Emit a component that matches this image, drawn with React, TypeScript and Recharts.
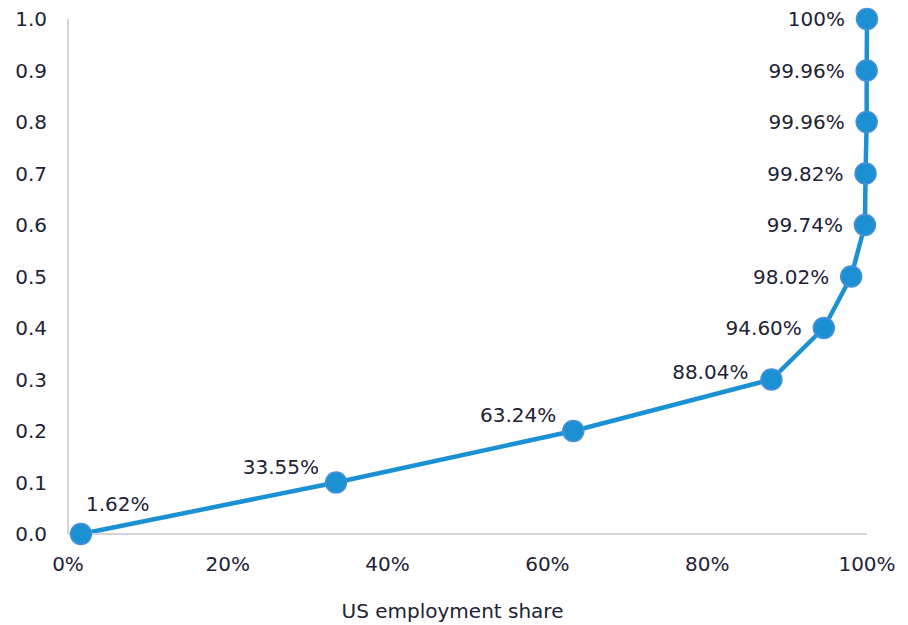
import React from 'react';
import { LineChart, Line, XAxis, YAxis, LabelList } from 'recharts';

// cumulative US employment share at each threshold
const employmentShare = [1.62, 33.55, 63.24, 88.04, 94.6, 98.02, 99.74, 99.82, 99.96, 99.96, 100];
const thresholds = [0.0, 0.1, 0.2, 0.3, 0.4, 0.5, 0.6, 0.7, 0.8, 0.9, 1.0];
const shareLabels = ['1.62%', '33.55%', '63.24%', '88.04%', '94.60%', '98.02%', '99.74%', '99.82%', '99.96%', '99.96%', '100%'];
const xTicks = [0, 20, 40, 60, 80, 100];
const yTicks = [0, 0.1, 0.2, 0.3, 0.4, 0.5, 0.6, 0.7, 0.8, 0.9, 1.0];

const data = employmentShare.map((share, i) => ({
  share,
  threshold: thresholds[i],
  label: shareLabels[i],
}));

const TEXT = '#1e2235';
const BLUE = '#1b91d3';
const FONT = '"DejaVu Sans", Verdana, sans-serif';

// first label sits above-right, the lower ones up-left, the rest to the left
const PointLabel = (props: any) => {
  const { x, y, index, value } = props;
  let tx = x - 22;
  let ty = y;
  let anchor = 'end';
  if (index === 0) {
    tx = x + 5;
    ty = y - 30;
    anchor = 'start';
  } else if (index === 1 || index === 2) {
    tx = x - 17;
    ty = y - 16;
  } else if (index === 3) {
    tx = x - 23;
    ty = y - 8;
  }
  return (
    <text x={tx} y={ty} textAnchor={anchor} dominantBaseline="central" fill={TEXT} fontSize={20} fontFamily={FONT}>
      {value}
    </text>
  );
};

export default function App() {
  return (
    <div style={{ position: 'absolute', left: 0, top: 0, background: '#fff' }}>
      <LineChart width={908} height={625} data={data} margin={{ top: 19, right: 41, left: 0, bottom: 0 }}>
        <XAxis
          type="number"
          dataKey="share"
          domain={[0, 100]}
          ticks={xTicks}
          tickFormatter={(v) => `${v}%`}
          axisLine={{ stroke: '#d3d3da', strokeWidth: 2 }}
          tickLine={false}
          tickMargin={17}
          height={91}
          tick={{ fill: TEXT, fontSize: 20, fontFamily: FONT }}
          label={{ value: 'US employment share', position: 'insideBottom', offset: 7, dx: -15, fill: TEXT, fontSize: 20, fontFamily: FONT }}
        />
        <YAxis
          type="number"
          dataKey="threshold"
          domain={[0, 1]}
          ticks={yTicks}
          tickFormatter={(v) => v.toFixed(1)}
          axisLine={{ stroke: '#d3d3da', strokeWidth: 2 }}
          tickLine={false}
          tickMargin={15}
          width={68}
          tick={{ fill: TEXT, fontSize: 20, fontFamily: FONT }}
        />
        <Line
          type="linear"
          dataKey="threshold"
          stroke={BLUE}
          strokeWidth={4.5}
          dot={{ r: 10.5, fill: BLUE, stroke: '#4a90d9', strokeWidth: 1.5 }}
          activeDot={false}
          isAnimationActive={false}
        >
          <LabelList dataKey="label" content={<PointLabel />} />
        </Line>
      </LineChart>
    </div>
  );
}
